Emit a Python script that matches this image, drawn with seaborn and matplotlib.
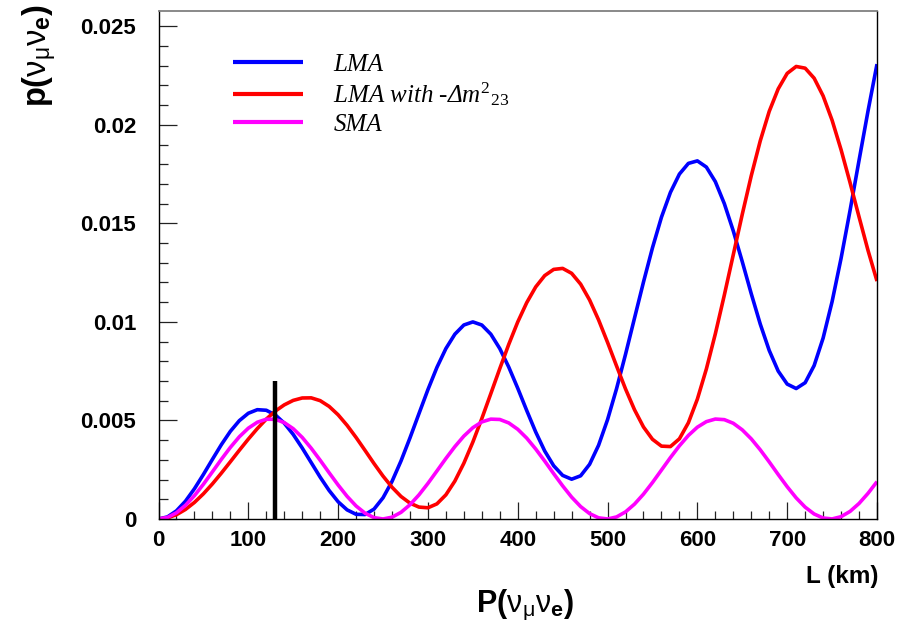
import matplotlib
matplotlib.use("Agg")
import matplotlib.pyplot as plt
import seaborn as sns
import pandas as pd
from matplotlib.ticker import FixedLocator, MultipleLocator, FixedFormatter

# ---------------- data ----------------
L_km = list(range(0, 801, 10))

lma = [0, 0.000106, 0.000414, 0.000903, 0.001535, 0.00226, 0.003025, 0.003773, 0.004448, 0.00499,
       0.005365, 0.005546, 0.005517, 0.005284, 0.004863, 0.00429, 0.003604, 0.002864, 0.002124, 0.001446,
       0.000875, 0.000463, 0.000238, 0.000225, 0.000504, 0.001077, 0.001905, 0.002944, 0.004115, 0.005345,
       0.006565, 0.007692, 0.008648, 0.009378, 0.009843, 0.0100, 0.009842, 0.009378, 0.008647, 0.007706,
       0.006634, 0.005503, 0.004414, 0.003452, 0.002702, 0.002212, 0.00202, 0.002191, 0.002775, 0.003741,
       0.005042, 0.006609, 0.008355, 0.010192, 0.012023, 0.01376, 0.015312, 0.016572, 0.017501, 0.018043,
       0.01817, 0.017856, 0.017116, 0.016001, 0.014614, 0.013053, 0.011429, 0.009891, 0.008551, 0.007504,
       0.006845, 0.00662, 0.006915, 0.007784, 0.00918, 0.011029, 0.013228, 0.015656, 0.018195, 0.0207,
       0.02308]

lma_inv = [0, 0.000055, 0.000218, 0.000484, 0.000841, 0.001278, 0.00178, 0.002329, 0.002904, 0.003487,
           0.004053, 0.004586, 0.005067, 0.005473, 0.00579, 0.006018, 0.00614, 0.006147, 0.006005, 0.005712,
           0.005286, 0.00475, 0.004136, 0.003478, 0.002811, 0.002177, 0.001613, 0.001144, 0.000804, 0.000605,
           0.000569, 0.000768, 0.001227, 0.001925, 0.00283, 0.003902, 0.005097, 0.006359, 0.007631, 0.008862,
           0.009998, 0.010978, 0.011775, 0.012349, 0.012664, 0.012715, 0.012465, 0.011917, 0.011112, 0.010102,
           0.00896, 0.007765, 0.006599, 0.005543, 0.004668, 0.004044, 0.003697, 0.003675, 0.004069, 0.004884,
           0.006083, 0.00761, 0.009396, 0.011359, 0.013413, 0.015463, 0.017416, 0.019184, 0.020682, 0.021823,
           0.022609, 0.02296, 0.022874, 0.022366, 0.021466, 0.020232, 0.018735, 0.017066, 0.01533, 0.013628,
           0.012071]

sma = [0, 0.0000803, 0.000316, 0.000692, 0.001185, 0.001763, 0.002392, 0.003028, 0.003632, 0.004172,
       0.004607, 0.00491, 0.005062, 0.005058, 0.004892, 0.004582, 0.00414, 0.003592, 0.002982, 0.002346,
       0.001725, 0.001149, 0.000661, 0.000294, 0.0000694, 0.0000004, 0.0000919, 0.000338, 0.000724, 0.001224,
       0.001807, 0.002437, 0.003072, 0.003673, 0.004206, 0.004633, 0.004925, 0.005067, 0.00505, 0.004874,
       0.004552, 0.004103, 0.003551, 0.00294, 0.002301, 0.001681, 0.001109, 0.000631, 0.000274, 0.0000594,
       0.0000016, 0.000104, 0.000361, 0.000755, 0.001262, 0.00185, 0.002483, 0.003117, 0.003714, 0.00424,
       0.004659, 0.00494, 0.005071, 0.005041, 0.004857, 0.004522, 0.004066, 0.003511, 0.002896, 0.002256,
       0.001638, 0.001072, 0.000601, 0.000254, 0.00005, 0.0000036, 0.000118, 0.000385, 0.000788, 0.001302,
       0.001895]

series_names = ["LMA", "LMA with -Δ$m^{\\mathit{2}}{}_{\\mathit{23}}$", "SMA"]
series_colors = ["#0000ff", "#ff0000", "#ff00ff"]

marker_L = 130
marker_top = 0.007

x_ticks = [0, 100, 200, 300, 400, 500, 600, 700, 800]
y_ticks = [0, 0.005, 0.01, 0.015, 0.02, 0.025]
y_tick_labels = ["0", "0.005", "0.01", "0.015", "0.02", "0.025"]

# ---------------- style ----------------
sns.set_style("white")
plt.rcParams["font.family"] = ["Liberation Sans", "DejaVu Sans"]
plt.rcParams["text.color"] = "black"
plt.rcParams["mathtext.fontset"] = "custom"
plt.rcParams["mathtext.rm"] = "Liberation Serif"
plt.rcParams["mathtext.it"] = "Liberation Serif:italic"
plt.rcParams["mathtext.bf"] = "Liberation Sans:bold"
plt.rcParams["mathtext.sf"] = "Liberation Sans"

df = pd.DataFrame({
    "L": L_km * 3,
    "p": lma + lma_inv + sma,
    "series": [series_names[0]] * len(L_km) + [series_names[1]] * len(L_km) + [series_names[2]] * len(L_km),
})

fig = plt.figure(figsize=(9.13, 6.26), dpi=100)
ax = fig.add_axes([158.5 / 913, 1 - 519 / 626, (877 - 158.5) / 913, (519 - 10.5) / 626])

sns.lineplot(data=df, x="L", y="p", hue="series", hue_order=series_names,
             palette=series_colors, linewidth=2.6, ax=ax, legend=True)
for ln in ax.get_lines():
    ln.set_solid_joinstyle("round")
    ln.set_solid_capstyle("butt")

ax.vlines(marker_L, 0, marker_top, colors="black", linewidth=3.2, zorder=5)

ax.set_xlim(0, 800)
ax.set_ylim(0, 0.0258)
ax.xaxis.set_major_locator(FixedLocator(x_ticks))
ax.xaxis.set_minor_locator(MultipleLocator(20))
ax.yaxis.set_major_locator(FixedLocator(y_ticks))
ax.yaxis.set_major_formatter(FixedFormatter(y_tick_labels))
ax.yaxis.set_minor_locator(MultipleLocator(0.001))

ax.tick_params(axis="both", which="both", direction="in", top=False, right=False,
               bottom=True, left=True, color="#222222", width=0.9, labelcolor="black")
ax.tick_params(axis="y", which="major", length=13, pad=16, labelsize=16)
ax.tick_params(axis="y", which="minor", length=6.5)
ax.tick_params(axis="x", which="major", length=12.5, pad=8, labelsize=16)
ax.tick_params(axis="x", which="minor", length=6)
for lab in ax.get_xticklabels() + ax.get_yticklabels():
    lab.set_fontweight("bold")

for side, sp in ax.spines.items():
    sp.set_color("black")
    sp.set_linewidth(1.0)
ax.spines["top"].set_color("#808080")
ax.spines["top"].set_linewidth(1.3)

ax.set_xlabel("")
ax.set_ylabel("")

leg = ax.legend(loc="upper left", bbox_to_anchor=(0.0727, 0.960), frameon=False,
                handlelength=2.8, handletextpad=1.2, labelspacing=0.19,
                prop={"family": "Liberation Serif", "style": "italic", "size": 18})
for line in leg.get_lines():
    line.set_linewidth(3.0)

fig.text(40 / 913, 1 - 4 / 626, r"$\mathbf{p(}\mathsf{ν}_{\mathsf{μ}}\mathsf{ν}_{\mathbf{e}}\mathbf{)}$",
         rotation=90, ha="center", va="top", fontsize=23.5)
fig.text(525 / 913, 1 - 605 / 626, r"$\mathbf{P(}\mathsf{ν}_{\mathsf{μ}}\mathsf{ν}_{\mathbf{e}}\mathbf{)}$",
         ha="center", va="center", fontsize=22)
fig.text(878 / 913, 1 - 577 / 626, "L (km)", ha="right", va="center", fontsize=17.5,
         fontweight="bold")

fig.savefig("out.png", dpi=100)
